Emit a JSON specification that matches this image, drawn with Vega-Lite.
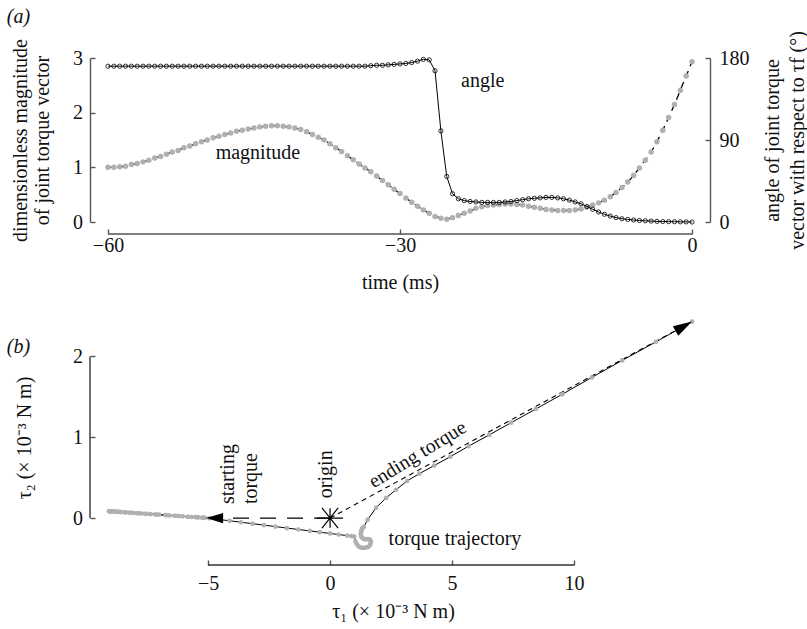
{
  "$schema": "https://vega.github.io/schema/vega-lite/v6.json",
  "padding": {"left": 6, "top": 6, "right": 5, "bottom": 5},
  "background": "white",
  "spacing": 27,
  "config": {
    "view": {"stroke": null},
    "font": "Liberation Serif",
    "axis": {
      "labelFont": "Liberation Serif", "titleFont": "Liberation Serif",
      "labelFontSize": 20, "titleFontSize": 20, "titleFontWeight": "normal",
      "labelColor": "#111", "titleColor": "#111",
      "domainColor": "#555", "tickColor": "#555", "domainWidth": 1.4, "tickWidth": 1.4,
      "tickSize": -5, "grid": false, "format": "d"
    },
    "text": {"font": "Liberation Serif", "fontSize": 20, "color": "#111"}
  },
  "datasets": {
    "d": [
      {"t": -60, "m": 1.00, "a": 171, "x": -5.15, "y": 0.003},
      {"t": -59.4, "m": 1.00, "a": 171, "x": -5.15, "y": 0.003},
      {"t": -58.8, "m": 1.01, "a": 171, "x": -5.20, "y": 0.004},
      {"t": -58.2, "m": 1.02, "a": 171, "x": -5.25, "y": 0.005},
      {"t": -57.6, "m": 1.05, "a": 171, "x": -5.41, "y": 0.009},
      {"t": -57, "m": 1.07, "a": 171, "x": -5.51, "y": 0.011},
      {"t": -56.4, "m": 1.10, "a": 171, "x": -5.67, "y": 0.014},
      {"t": -55.8, "m": 1.13, "a": 171, "x": -5.82, "y": 0.017},
      {"t": -55.2, "m": 1.17, "a": 171, "x": -6.03, "y": 0.022},
      {"t": -54.6, "m": 1.20, "a": 171, "x": -6.18, "y": 0.025},
      {"t": -54, "m": 1.24, "a": 171, "x": -6.39, "y": 0.029},
      {"t": -53.4, "m": 1.28, "a": 171, "x": -6.59, "y": 0.033},
      {"t": -52.8, "m": 1.31, "a": 171, "x": -6.75, "y": 0.037},
      {"t": -52.2, "m": 1.36, "a": 171, "x": -7.00, "y": 0.042},
      {"t": -51.6, "m": 1.39, "a": 171, "x": -7.16, "y": 0.045},
      {"t": -51, "m": 1.43, "a": 171, "x": -7.36, "y": 0.049},
      {"t": -50.4, "m": 1.47, "a": 171, "x": -7.57, "y": 0.054},
      {"t": -49.8, "m": 1.50, "a": 171, "x": -7.73, "y": 0.057},
      {"t": -49.2, "m": 1.54, "a": 171, "x": -7.93, "y": 0.061},
      {"t": -48.6, "m": 1.57, "a": 171, "x": -8.09, "y": 0.065},
      {"t": -48, "m": 1.60, "a": 171, "x": -8.24, "y": 0.068},
      {"t": -47.4, "m": 1.63, "a": 171, "x": -8.39, "y": 0.071},
      {"t": -46.8, "m": 1.66, "a": 171, "x": -8.55, "y": 0.074},
      {"t": -46.2, "m": 1.68, "a": 171, "x": -8.65, "y": 0.077},
      {"t": -45.6, "m": 1.70, "a": 171, "x": -8.76, "y": 0.079},
      {"t": -45, "m": 1.72, "a": 171, "x": -8.86, "y": 0.081},
      {"t": -44.4, "m": 1.74, "a": 171, "x": -8.96, "y": 0.083},
      {"t": -43.8, "m": 1.75, "a": 171, "x": -9.01, "y": 0.084},
      {"t": -43.2, "m": 1.76, "a": 171, "x": -9.06, "y": 0.085},
      {"t": -42.6, "m": 1.76, "a": 171, "x": -9.06, "y": 0.085},
      {"t": -42, "m": 1.75, "a": 171, "x": -9.00, "y": 0.084},
      {"t": -41.4, "m": 1.74, "a": 171, "x": -8.94, "y": 0.083},
      {"t": -40.8, "m": 1.72, "a": 171, "x": -8.82, "y": 0.080},
      {"t": -40.2, "m": 1.69, "a": 171, "x": -8.65, "y": 0.077},
      {"t": -39.6, "m": 1.65, "a": 171, "x": -8.41, "y": 0.072},
      {"t": -39, "m": 1.60, "a": 171, "x": -8.12, "y": 0.065},
      {"t": -38.4, "m": 1.55, "a": 171, "x": -7.83, "y": 0.059},
      {"t": -37.8, "m": 1.50, "a": 171, "x": -7.53, "y": 0.053},
      {"t": -37.2, "m": 1.43, "a": 171, "x": -7.12, "y": 0.044},
      {"t": -36.6, "m": 1.36, "a": 171, "x": -6.71, "y": 0.036},
      {"t": -36, "m": 1.29, "a": 171, "x": -6.30, "y": 0.027},
      {"t": -35.4, "m": 1.21, "a": 171, "x": -5.83, "y": 0.017},
      {"t": -34.8, "m": 1.14, "a": 171, "x": -5.41, "y": 0.009},
      {"t": -34.2, "m": 1.06, "a": 171, "x": -4.94, "y": -0.002},
      {"t": -33.6, "m": 0.99, "a": 171, "x": -4.53, "y": -0.018},
      {"t": -33, "m": 0.92, "a": 171.5, "x": -4.12, "y": -0.033},
      {"t": -32.4, "m": 0.84, "a": 172, "x": -3.65, "y": -0.051},
      {"t": -31.8, "m": 0.76, "a": 172, "x": -3.18, "y": -0.069},
      {"t": -31.2, "m": 0.68, "a": 172.5, "x": -2.71, "y": -0.087},
      {"t": -30.6, "m": 0.60, "a": 173, "x": -2.24, "y": -0.105},
      {"t": -30, "m": 0.52, "a": 173.5, "x": -1.77, "y": -0.123},
      {"t": -29.4, "m": 0.44, "a": 174, "x": -1.30, "y": -0.141},
      {"t": -28.8, "m": 0.36, "a": 175, "x": -0.83, "y": -0.158},
      {"t": -28.2, "m": 0.29, "a": 176.5, "x": -0.42, "y": -0.174},
      {"t": -27.6, "m": 0.22, "a": 178.5, "x": 0.00, "y": -0.190},
      {"t": -27, "m": 0.16, "a": 178, "x": 0.35, "y": -0.203},
      {"t": -26.4, "m": 0.10, "a": 166, "x": 0.70, "y": -0.217},
      {"t": -25.8, "m": 0.07, "a": 100, "x": 0.88, "y": -0.223},
      {"t": -25.2, "m": 0.05, "a": 50, "x": 0.99, "y": -0.228},
      {"t": -24.6, "m": 0.08, "a": 31, "x": 1.04, "y": -0.29},
      {"t": -24, "m": 0.12, "a": 25.5, "x": 1.09, "y": -0.32},
      {"t": -23.4, "m": 0.16, "a": 23.5, "x": 1.14, "y": -0.34},
      {"t": -22.8, "m": 0.20, "a": 22.5, "x": 1.20, "y": -0.355},
      {"t": -22.2, "m": 0.25, "a": 22, "x": 1.27, "y": -0.365},
      {"t": -21.6, "m": 0.28, "a": 21.5, "x": 1.34, "y": -0.37},
      {"t": -21, "m": 0.30, "a": 21.5, "x": 1.42, "y": -0.368},
      {"t": -20.4, "m": 0.31, "a": 21.5, "x": 1.50, "y": -0.362},
      {"t": -19.8, "m": 0.32, "a": 21.5, "x": 1.57, "y": -0.355},
      {"t": -19.2, "m": 0.33, "a": 22, "x": 1.63, "y": -0.335},
      {"t": -18.6, "m": 0.33, "a": 22.5, "x": 1.67, "y": -0.31},
      {"t": -18, "m": 0.32, "a": 23.5, "x": 1.67, "y": -0.285},
      {"t": -17.4, "m": 0.31, "a": 24.5, "x": 1.63, "y": -0.265},
      {"t": -16.8, "m": 0.29, "a": 25.5, "x": 1.56, "y": -0.26},
      {"t": -16.2, "m": 0.27, "a": 26, "x": 1.49, "y": -0.26},
      {"t": -15.6, "m": 0.25, "a": 26.5, "x": 1.41, "y": -0.262},
      {"t": -15, "m": 0.23, "a": 27, "x": 1.34, "y": -0.25},
      {"t": -14.4, "m": 0.22, "a": 27, "x": 1.29, "y": -0.235},
      {"t": -13.8, "m": 0.21, "a": 26.5, "x": 1.27, "y": -0.22},
      {"t": -13.2, "m": 0.21, "a": 25.5, "x": 1.26, "y": -0.20},
      {"t": -12.6, "m": 0.21, "a": 24, "x": 1.27, "y": -0.18},
      {"t": -12, "m": 0.22, "a": 22, "x": 1.28, "y": -0.16},
      {"t": -11.4, "m": 0.24, "a": 20, "x": 1.30, "y": -0.14},
      {"t": -10.8, "m": 0.27, "a": 17, "x": 1.33, "y": -0.125},
      {"t": -10.2, "m": 0.31, "a": 14, "x": 1.38, "y": -0.11},
      {"t": -9.6, "m": 0.35, "a": 11, "x": 1.54, "y": -0.02},
      {"t": -9, "m": 0.40, "a": 8.5, "x": 1.89, "y": 0.13},
      {"t": -8.4, "m": 0.46, "a": 6.5, "x": 2.30, "y": 0.25},
      {"t": -7.8, "m": 0.54, "a": 4.8, "x": 2.70, "y": 0.35},
      {"t": -7.2, "m": 0.63, "a": 3.6, "x": 3.16, "y": 0.46},
      {"t": -6.6, "m": 0.73, "a": 2.8, "x": 3.66, "y": 0.55},
      {"t": -6, "m": 0.85, "a": 2.2, "x": 4.27, "y": 0.65},
      {"t": -5.4, "m": 0.99, "a": 1.7, "x": 4.93, "y": 0.76},
      {"t": -4.8, "m": 1.13, "a": 1.3, "x": 5.68, "y": 0.89},
      {"t": -4.2, "m": 1.28, "a": 1.0, "x": 6.53, "y": 1.03},
      {"t": -3.6, "m": 1.47, "a": 0.7, "x": 7.42, "y": 1.18},
      {"t": -3, "m": 1.68, "a": 0.5, "x": 8.44, "y": 1.35},
      {"t": -2.4, "m": 1.91, "a": 0.4, "x": 9.51, "y": 1.53},
      {"t": -1.8, "m": 2.15, "a": 0.3, "x": 10.73, "y": 1.74},
      {"t": -1.2, "m": 2.41, "a": 0.2, "x": 11.97, "y": 1.95},
      {"t": -0.6, "m": 2.67, "a": 0.1, "x": 13.36, "y": 2.18},
      {"t": 0, "m": 2.93, "a": 0, "x": 14.84, "y": 2.43}
    ]
  },
  "vconcat": [
    {
      "width": 620,
      "height": 164,
      "data": {"name": "d"},
      "layer": [
        {
          "layer": [
            {
              "mark": {"type": "line", "stroke": "black", "strokeWidth": 1.3, "strokeDash": [7, 5]},
              "encoding": {
                "x": {"field": "t", "type": "quantitative",
                  "scale": {"domain": [-61.85, 1.85], "nice": false, "zero": false},
                  "axis": {"values": [-60, -30, 0], "domain": false, "offset": 12, "title": "time (ms)", "labelPadding": 6, "titlePadding": 17}},
                "y": {"field": "m", "type": "quantitative",
                  "scale": {"domain": [0, 3], "nice": false},
                  "axis": {"values": [0, 1, 2, 3], "title": ["dimensionless magnitude", "of joint torque vector"], "labelPadding": 12.5, "titlePadding": 20, "titleLineHeight": 22, "titleBaseline": "bottom"}}
              }
            },
            {
              "mark": {"type": "point", "filled": true, "color": "#b0b0b0", "size": 30, "opacity": 1},
              "encoding": {
                "x": {"field": "t", "type": "quantitative"},
                "y": {"field": "m", "type": "quantitative"}
              }
            },
            {
              "data": {"values": [{}]},
              "mark": {"type": "rule", "stroke": "#555", "strokeWidth": 1.4},
              "encoding": {"x": {"datum": -60}, "x2": {"datum": 0}, "y": {"datum": -0.2194}}
            },
            {
              "data": {"values": [{}]},
              "mark": {"type": "text", "text": "magnitude"},
              "encoding": {"x": {"datum": -44.6}, "y": {"datum": 1.26}}
            },
            {
              "data": {"values": [{}]},
              "mark": {"type": "text", "text": "angle"},
              "encoding": {"x": {"datum": -21.5}, "y": {"datum": 2.58}}
            },
            {
              "data": {"values": [{}]},
              "mark": {"type": "text", "text": "(a)", "fontStyle": "italic"},
              "encoding": {"x": {"datum": -69.2}, "y": {"datum": 3.757}}
            }
          ]
        },
        {
          "layer": [
            {
              "mark": {"type": "line", "stroke": "black", "strokeWidth": 1},
              "encoding": {
                "x": {"field": "t", "type": "quantitative"},
                "y": {"field": "a", "type": "quantitative",
                  "scale": {"domain": [0, 180], "nice": false},
                  "axis": {"orient": "right", "values": [0, 90, 180], "title": ["angle of joint torque", "vector with respect to τf (°)"], "titleAngle": 270, "titleBaseline": "top", "labelPadding": 14, "titlePadding": -12, "titleLineHeight": 25}}
              }
            },
            {
              "mark": {"type": "point", "filled": false, "stroke": "black", "strokeWidth": 0.8, "size": 18, "opacity": 1},
              "encoding": {
                "x": {"field": "t", "type": "quantitative"},
                "y": {"field": "a", "type": "quantitative"}
              }
            }
          ]
        }
      ],
      "resolve": {"scale": {"y": "independent"}}
    },
    {
      "width": 606,
      "height": 245,
      "data": {"name": "d"},
      "layer": [
        {
          "data": {"values": [{}]},
          "mark": {"type": "rule", "stroke": "black", "strokeWidth": 1.2, "strokeDash": [16, 11]},
          "encoding": {"x": {"datum": 0}, "y": {"datum": 0}, "x2": {"datum": -4.6}, "y2": {"datum": 0}}
        },
        {
          "data": {"values": [{}]},
          "mark": {"type": "rule", "stroke": "black", "strokeWidth": 1.1, "strokeDash": [5, 4]},
          "encoding": {"x": {"datum": 0}, "y": {"datum": 0}, "x2": {"datum": 14.84}, "y2": {"datum": 2.43}}
        },
        {
          "mark": {"type": "line", "stroke": "black", "strokeWidth": 1},
          "encoding": {
            "x": {"field": "x", "type": "quantitative",
              "scale": {"domain": [-9.84, 15.0], "nice": false, "zero": false},
              "axis": {"values": [-5, 0, 5, 10], "domain": false, "title": "τ₁ (× 10⁻³ N m)", "labelPadding": 13.5, "titlePadding": 8}},
            "y": {"field": "y", "type": "quantitative",
              "scale": {"domain": [-0.58, 2.45], "nice": false, "zero": false},
              "axis": {"values": [0, 1, 2], "domain": false, "title": "τ₂ (× 10⁻³ N m)", "labelPadding": 12.5, "titlePadding": 38, "titleY": 117.5}},
            "order": {"field": "t", "type": "quantitative"}
          }
        },
        {
          "mark": {"type": "point", "filled": true, "color": "#b0b0b0", "size": 22, "opacity": 1},
          "encoding": {
            "x": {"field": "x", "type": "quantitative"},
            "y": {"field": "y", "type": "quantitative"}
          }
        },
        {
          "data": {"values": [{}]},
          "mark": {"type": "rule", "stroke": "#333", "strokeWidth": 1.4},
          "encoding": {"x": {"datum": -5}, "x2": {"datum": 10}, "y": {"datum": -0.58}}
        },
        {
          "data": {"values": [{}]},
          "mark": {"type": "rule", "stroke": "#333", "strokeWidth": 1.4},
          "encoding": {"x": {"datum": -9.84}, "y": {"datum": 0}, "y2": {"datum": 2}}
        },
        {
          "data": {"values": [{}]},
          "mark": {"type": "point", "shape": "M0,0L2,-0.6L2,0.6Z", "filled": true, "color": "black", "size": 289, "opacity": 1},
          "encoding": {"x": {"datum": -5.08}, "y": {"datum": 0.0}}
        },
        {
          "data": {"values": [{}]},
          "mark": {"type": "point", "shape": "M0,0L-2,-0.58L-2,0.58Z", "filled": true, "color": "black", "size": 361, "opacity": 1, "angle": 330.5},
          "encoding": {"x": {"datum": 14.84}, "y": {"datum": 2.43}}
        },
        {
          "data": {"values": [{}]},
          "mark": {"type": "point", "shape": "M-1,0L1,0M0,-0.75L0,0.75M-0.62,-0.78L0.62,0.78M-0.62,0.78L0.62,-0.78", "filled": false, "stroke": "black", "strokeWidth": 1.2, "size": 676, "opacity": 1},
          "encoding": {"x": {"datum": 0}, "y": {"datum": 0}}
        },
        {
          "data": {"values": [{}]},
          "mark": {"type": "text", "text": "(b)", "fontStyle": "italic"},
          "encoding": {"x": {"datum": -12.77}, "y": {"datum": 2.12}}
        },
        {
          "data": {"values": [{}]},
          "mark": {"type": "text", "text": "starting", "angle": 270, "align": "left", "baseline": "middle"},
          "encoding": {"x": {"datum": -4.19}, "y": {"datum": 0.173}}
        },
        {
          "data": {"values": [{}]},
          "mark": {"type": "text", "text": "torque", "angle": 270, "align": "left", "baseline": "middle"},
          "encoding": {"x": {"datum": -3.24}, "y": {"datum": 0.173}}
        },
        {
          "data": {"values": [{}]},
          "mark": {"type": "text", "text": "origin", "angle": 270, "align": "left", "baseline": "middle"},
          "encoding": {"x": {"datum": -0.16}, "y": {"datum": 0.247}}
        },
        {
          "data": {"values": [{}]},
          "mark": {"type": "text", "text": "ending torque", "angle": 328.5, "align": "center", "baseline": "middle"},
          "encoding": {"x": {"datum": 3.59}, "y": {"datum": 0.786}}
        },
        {
          "data": {"values": [{}]},
          "mark": {"type": "text", "text": "torque trajectory", "align": "center", "baseline": "middle"},
          "encoding": {"x": {"datum": 5.12}, "y": {"datum": -0.26}}
        }
      ]
    }
  ]
}
